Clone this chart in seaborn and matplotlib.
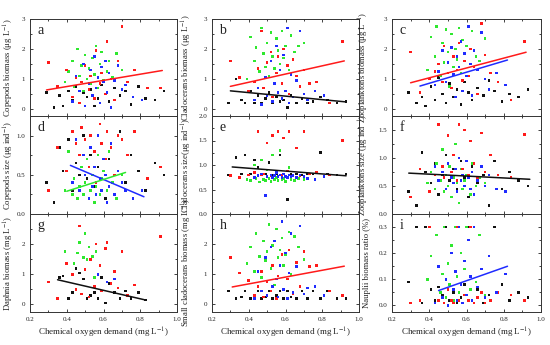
import numpy as np
import pandas as pd
import seaborn as sns
import matplotlib.pyplot as plt
from matplotlib.ticker import MultipleLocator

nan = np.nan

# COD (mg/L) of the samples in each colour group
x_black = [0.29, 0.33, 0.36, 0.38, 0.41, 0.43, 0.45, 0.47, 0.49, 0.51, 0.53, 0.55,
           0.57, 0.59, 0.61, 0.63, 0.66, 0.69, 0.72, 0.75, 0.79, 0.83, 0.88, 0.93]
x_red = [0.30, 0.35, 0.40, 0.43, 0.45, 0.47, 0.48, 0.50, 0.52, 0.53, 0.55, 0.56,
         0.58, 0.59, 0.61, 0.62, 0.64, 0.66, 0.68, 0.70, 0.73, 0.77, 0.84, 0.91]
x_green = [0.39, 0.41, 0.43, 0.44, 0.46, 0.47, 0.48, 0.49, 0.50, 0.51, 0.52, 0.53,
           0.54, 0.55, 0.56, 0.57, 0.58, 0.59, 0.60, 0.62, 0.63, 0.65, 0.67, 0.70]
x_blue = [0.43, 0.45, 0.47, 0.49, 0.50, 0.52, 0.53, 0.54, 0.55, 0.56, 0.57, 0.58,
          0.59, 0.60, 0.61, 0.62, 0.63, 0.64, 0.66, 0.68, 0.70, 0.72, 0.76, 0.81]

# a - copepods biomass
a_black = [0.55, 0.05, 0.45, 0.1, 0.6, 0.3, 0.75, 0.2, 0.55, 0.4, 0.65, 0.1, 0.35, 0.8, 0.5, 0.25, 0.7, 0.45, 0.6, 0.15, 0.75, 0.35, 0.3, 0.6]
a_red = [1.55, 0.75, 1.3, 0.4, 1.05, 0.2, 0.9, 1.45, 0.65, 1.1, 0.35, 1.95, 0.85, 1.2, 0.5, 2.25, 1.0, 0.3, 1.6, 2.75, 0.9, 1.3, 0.7, 0.7]
a_green = [0.9, 1.25, 1.6, 0.75, 2.0, 1.1, 1.45, 0.6, 1.8, 1.0, 1.35, 0.85, 1.7, 1.15, 2.1, 0.7, 1.5, 1.9, 0.95, 1.25, 1.6, 1.05, 1.85, 1.3]
a_blue = [0.25, 1.1, 0.6, 1.5, 0.1, 0.85, 1.3, 0.45, 1.75, 0.7, 1.05, 0.2, 1.4, 0.9, 1.6, 0.55, 1.2, 0.05, 0.95, 1.45, 0.65, 0.8, 0.4, 0.3]
# b - cladocerans biomass
b_black = [0.2, 1.0, 0.3, 0.2, 0.6, 0.2, 0.45, 0.2, 0.35, 0.55, 0.2, 0.4, 0.25, 0.3, 0.05, 0.45, 0.2, 0.35, 0.2, 0.25, 0.4, 0.3, 0.2, 0.25]
b_red = [1.6, 1.05, 0.6, 0.9, 1.35, 2.6, 0.7, 1.55, 1.9, 0.4, 1.2, 1.75, 0.85, 2.0, 1.45, 0.5, 1.65, 1.1, 0.75, 1.3, 0.85, 0.9, 0.2, 2.25]
b_green = [1.0, 2.4, 1.6, 2.05, 1.25, 2.7, 1.85, 1.4, 2.2, 1.1, 2.55, 1.75, 1.35, 2.35, 1.95, 1.5, 2.6, 1.7, 2.1, 1.3, 2.45, 1.9, 2.1, 2.2]
b_blue = [0.3, 0.7, 0.15, 1.05, 0.45, 1.6, 0.25, 0.85, 2.1, 0.55, 1.3, 0.35, 1.8, 0.6, 2.7, 0.2, 1.15, 0.4, 0.95, 2.6, 0.5, 0.3, 0.6, 0.45]
# c - zooplanktons biomass
c_black = [0.55, 0.2, 0.4, 0.1, 0.75, 0.3, 1.05, 0.5, 0.2, 0.85, 0.4, 0.65, 0.15, 0.9, 0.55, 0.3, 0.7, 0.45, 0.95, 0.6, 0.25, 0.5, 0.4, 0.65]
c_red = [1.9, 0.55, 1.0, 1.25, 1.5, 0.9, 2.1, 1.2, 0.7, 1.75, 1.3, 2.2, 0.95, 1.6, 1.1, 2.0, 1.4, 0.5, 2.85, 1.8, 1.2, 0.9, 0.3, 2.25]
c_green = [1.3, 2.4, 1.75, 2.75, 1.1, 2.2, 1.55, 2.65, 1.9, 0.75, 2.5, 1.4, 2.0, 1.65, 2.7, 1.2, 2.3, 1.85, 2.1, 1.5, 2.6, 1.75, 1.6, 2.35]
c_blue = [0.8, 1.25, 1.95, 0.9, 1.55, 2.05, 1.15, 0.4, 1.75, 1.4, 2.25, 0.6, 1.85, 1.1, 2.75, 1.5, 0.45, 1.95, 1.3, 2.55, 1.0, 0.65, 1.2, 0.8]
# d - copepods size
d_black = [0.4, 0.15, 0.85, 0.55, 0.95, 0.3, 0.65, 0.5, 1.0, 0.45, 0.75, 0.35, 0.6, 0.9, 0.2, 0.7, 0.5, 1.05, 0.4, 0.75, 0.55, 0.3, 0.65, 0.5]
d_red = [0.3, 0.85, 0.55, 1.05, 0.9, 0.75, 1.1, 0.95, 0.6, 1.0, 0.8, 0.4, 1.15, 0.9, 0.7, 1.05, 0.85, 0.5, 1.0, 0.95, 0.75, 1.05, 0.45, 0.6]
d_green = [0.3, 0.8, 0.25, 0.45, 0.2, 0.35, 0.6, 0.25, 0.4, 0.7, 0.2, 0.3, 0.5, 0.15, 0.35, 0.75, 0.25, 0.45, 0.55, 0.3, 0.8, 0.4, 0.2, 0.5]
d_blue = [0.4, 0.95, 0.3, 0.75, 0.5, 0.2, 0.85, 0.35, 0.6, 0.25, 1.0, 0.45, 0.3, 0.7, 0.5, 0.15, 0.35, 0.9, 0.25, 0.55, 0.4, 0.3, 0.2, 0.3]
# e - cladocerans size
e_black = [0.8, 1.15, 0.82, 1.2, 0.82, 1.1, 0.95, 0.82, 0.82, 1.05, 0.8, 0.82, 1.2, 0.82, 0.3, 0.82, 0.82, 0.8, 0.82, 0.82, 1.25, 0.82, 0.8, 0.82]
e_red = [0.78, 0.75, 0.8, 0.85, 1.68, 0.8, 0.82, 1.45, 0.78, 1.6, 0.84, 1.68, 0.8, 1.55, 0.88, 1.68, 0.8, 1.35, 0.78, 1.68, 0.82, 0.86, 0.8, 1.5]
e_green = [0.7, 0.68, 1.0, 0.72, 0.65, 1.1, 0.7, 0.68, 0.9, 0.72, 0.66, 1.2, 0.7, 0.75, 0.68, 1.3, 0.7, 0.72, 0.66, 0.95, 0.7, 0.68, 0.72, 0.7]
e_blue = [0.75, 0.78, 0.82, 0.38, 0.76, 0.8, 0.74, 0.78, 0.85, 0.76, 0.8, 0.75, 0.82, 0.77, 0.74, 0.8, 0.76, 0.78, 0.74, 0.8, 0.76, 0.72, 0.7, 0.76]
# f - zooplanktons size
f_black = [0.4, 0.15, 1.1, 0.75, 0.55, 0.9, 0.35, 0.7, 1.05, 0.6, 0.8, 0.45, 0.95, 0.65, 0.3, 0.85, 0.55, 0.7, 0.15, 0.95, 0.45, 0.75, 0.6, 0.5]
f_red = [0.3, 0.8, 0.4, 0.7, 1.6, 0.85, 0.65, 1.4, 0.75, 1.05, 0.6, 1.6, 0.8, 1.5, 0.7, 1.3, 0.9, 0.65, 1.45, 0.75, 1.05, 0.7, 0.65, 1.42]
f_green = [0.55, 0.75, 0.45, 0.9, 0.6, 1.15, 0.4, 0.7, 0.5, 0.85, 0.3, 0.65, 1.25, 0.55, 0.2, 0.8, 0.45, 0.6, 0.7, 0.35, 0.9, 0.5, 0.65, 0.55]
f_blue = [0.85, 0.6, 0.75, 0.45, 0.9, 0.65, 0.55, 0.8, 0.4, 1.0, 0.6, 0.7, 0.5, 0.95, 0.65, 0.45, 0.75, 0.35, 0.6, 0.85, 0.5, 0.7, 0.45, 0.4]
# g - daphnia biomass
g_black = [nan, nan, 0.9, 0.95, 0.2, 0.4, 1.2, 1.05, 0.85, 0.2, 0.3, 0.4, 0.2, 0.9, 0.05, 0.7, 0.4, 0.2, 0.45, 0.2, 0.4, 0.15, nan, nan]
g_red = [0.75, 0.2, 1.35, 1.0, 0.5, 2.6, 0.35, 1.15, 0.25, 1.5, 0.6, 2.0, 1.3, 0.45, 1.85, 2.05, 0.7, 1.1, 0.55, 1.75, 0.3, 0.65, nan, 2.25]
g_green = [1.75, nan, nan, 1.35, 1.7, 2.05, nan, 1.55, 2.35, 1.5, 1.9, nan, 1.6, 0.9, 1.75, nan, nan, nan, nan, nan, nan, nan, nan, nan]
g_blue = [nan, nan, nan, nan, nan, nan, nan, nan, nan, nan, 1.0, nan, nan, nan, nan, 0.75, nan, nan, 0.85, nan, nan, nan, nan, nan]
# h - small cladocerans biomass
h_black = [0.45, 0.2, 0.25, 0.45, 0.2, 0.3, 0.45, 0.2, 0.25, 0.45, 0.2, 0.3, 0.45, 0.2, 0.45, 0.25, 0.2, 0.45, 0.2, 0.45, 0.2, 0.45, 0.2, 0.2]
h_red = [1.55, 1.05, 0.8, 0.3, 0.6, 1.1, 0.25, 0.75, 0.45, 1.3, 0.2, 0.95, 1.65, 0.5, 0.85, 1.8, 0.35, 1.4, 0.6, 1.75, 1.25, 1.3, 0.45, 0.3]
h_green = [1.35, 1.9, 1.1, 2.35, 1.6, 0.9, 2.1, 1.45, 1.75, 2.65, 1.2, 1.95, 0.65, 2.5, 1.55, 1.8, 2.2, 1.3, 1.65, 2.4, 1.0, 2.25, 1.9, 1.5]
h_blue = [0.2, 1.1, 0.45, 1.55, 0.3, 1.9, 0.6, 2.1, 0.85, 0.25, 1.3, 2.75, 0.5, 1.7, 0.2, 1.05, 2.35, 0.4, 1.25, 2.6, 0.35, 0.55, 0.6, 0.3]
# i - nauplii biomass ratio
i_black = [0.09, 0.3, 0.01, 0.3, 0.06, 0.02, 0.07, 0.04, 0.3, 0.02, 0.05, 0.01, 0.03, 0.08, 0.3, 0.02, 0.06, 0.01, 0.04, 0.3, 0.08, 0.02, 0.05, 0.03]
i_red = [0.01, 0.02, 0.3, 0.01, 0.02, 0.03, 0.01, 0.06, 0.02, 0.01, 0.3, 0.02, 0.01, 0.04, 0.02, 0.3, 0.01, 0.03, 0.05, 0.01, 0.02, 0.05, 0.04, 0.02]
i_green = [0.1, 0.19, 0.01, 0.27, 0.05, 0.12, 0.3, 0.03, 0.16, 0.08, 0.23, 0.02, 0.3, 0.11, 0.05, 0.2, 0.01, 0.14, 0.3, 0.06, 0.02, 0.09, 0.27, 0.04]
i_blue = [0.01, 0.15, 0.03, 0.1, 0.0, 0.2, 0.06, 0.13, 0.02, 0.3, 0.08, 0.01, 0.17, 0.04, 0.25, 0.11, 0.02, 0.3, 0.07, 0.14, 0.03, 0.19, 0.05, 0.12]

# fitted lines: (group, [x0, x1], [y0, y1])
a_fits = [("red", [0.29, 0.92], [0.63, 1.28])]
b_fits = [("red", [0.30, 0.92], [0.75, 1.60]), ("black", [0.30, 0.93], [0.60, 0.23])]
c_fits = [("red", [0.30, 0.92], [0.87, 1.89]), ("blue", [0.35, 0.82], [0.76, 1.63])]
d_fits = [("blue", [0.42, 0.82], [0.62, 0.22]), ("green", [0.40, 0.72], [0.29, 0.53])]
e_fits = [("black", [0.31, 0.93], [0.96, 0.78])]
f_fits = [("black", [0.29, 0.94], [0.73, 0.62])]
g_fits = [("black", [0.35, 0.82], [0.82, 0.16])]
h_fits = [("red", [0.31, 0.92], [0.58, 1.27])]
i_fits = [("blue", [0.45, 0.82], [0.057, 0.15])]

ylabels = [
    "Copepods biomass (μg L$^{-1}$)", "Cladocerans biomass (μg L$^{-1}$)", "Zooplanktons biomass (μg L$^{-1}$)",
    "Copepods size (μg ind$^{-1}$)", "Cladocerans size(μg ind$^{-1}$)", "Zooplanktons size (μg ind$^{-1}$)",
    "Daphnia biomass (mg L$^{-1}$)", "Small cladocerans biomass (mg L$^{-1}$)", "Nauplii biomass ratio (%)",
]
ylims = [(-0.24, 3.0), (-0.24, 3.0), (-0.24, 3.0),
         (0.0, 1.25), (0.0, 2.0), (0.0, 1.75),
         (-0.25, 3.0), (-0.25, 3.0), (-0.025, 0.35)]
yticks = [[0, 1, 2, 3], [0, 1, 2, 3], [0, 1, 2, 3],
          [0.0, 0.5, 1.0], [0.0, 0.5, 1.0, 1.5, 2.0], [0.0, 0.5, 1.0, 1.5],
          [0, 1, 2], [0, 1, 2], [0.0, 0.1, 0.2, 0.3]]
letters = list("abcdefghi")

GROUPS = ["black", "green", "red", "blue"]
PALETTE = {"black": "#111111", "red": "#ff1a1a", "green": "#2ee82e", "blue": "#1f2bff"}
X = {"black": x_black, "red": x_red, "green": x_green, "blue": x_blue}

panels = [
    (a_black, a_red, a_green, a_blue, a_fits), (b_black, b_red, b_green, b_blue, b_fits),
    (c_black, c_red, c_green, c_blue, c_fits), (d_black, d_red, d_green, d_blue, d_fits),
    (e_black, e_red, e_green, e_blue, e_fits), (f_black, f_red, f_green, f_blue, f_fits),
    (g_black, g_red, g_green, g_blue, g_fits), (h_black, h_red, h_green, h_blue, h_fits),
    (i_black, i_red, i_green, i_blue, i_fits),
]

sns.set_style("ticks")
plt.rcParams["font.family"] = ["Liberation Serif", "DejaVu Serif"]
plt.rcParams["mathtext.fontset"] = "stix"
TXT = "#222222"

fig = plt.figure(figsize=(5.5, 3.45), dpi=100)
W, H = 550, 345
col_x = [(30, 147), (212, 147), (392, 149)]
row_y = [(19, 116), (116, 214), (214, 312)]
# distance (px) from the axis to the right edge of the y label
label_off = [-14, -18, -21]


def draw_panel(ax, idx, ys):
    yk, yr, yg, yb, fits = ys
    vals = {"black": yk, "red": yr, "green": yg, "blue": yb}
    df = pd.concat([pd.DataFrame({"cod": X[g], "value": vals[g], "group": g}) for g in GROUPS])
    df = df.dropna()
    sns.scatterplot(data=df, x="cod", y="value", hue="group", palette=PALETTE,
                    marker="s", s=3.5, linewidth=0, legend=False, ax=ax, zorder=2)
    for grp, fx, fy in fits:
        sns.lineplot(x=fx, y=fy, color=PALETTE[grp], lw=1.1, ax=ax, zorder=3)

    ax.set_xlim(0.2, 1.0)
    ax.set_ylim(*ylims[idx])
    ax.set_yticks(yticks[idx])
    ax.xaxis.set_major_locator(MultipleLocator(0.2))
    ax.xaxis.set_minor_locator(MultipleLocator(0.1))
    step = yticks[idx][1] - yticks[idx][0]
    ax.yaxis.set_minor_locator(MultipleLocator(step / 2))
    ax.tick_params(which="both", direction="in", top=True, right=True,
                   labelsize=5, colors=TXT, width=0.6)
    ax.tick_params(which="major", length=2.5)
    ax.tick_params(which="minor", length=1.5)
    if idx < 6:
        ax.set_xticklabels([])
        ax.set_xlabel("")
    else:
        ax.set_xticks([0.2, 0.4, 0.6, 0.8, 1.0])
        ax.set_xticklabels(["0.2", "0.4", "0.6", "0.8", "1.0"])
        ax.set_xlabel("Chemical oxygen demand (mg L$^{-1}$)", fontsize=6.5, color=TXT, labelpad=3)
    ax.set_ylabel(ylabels[idx], fontsize=6.2, color=TXT)
    ax.yaxis.set_label_coords(label_off[idx % 3] / col_x[idx % 3][1], 0.5)
    for sp in ax.spines.values():
        sp.set_linewidth(0.7)
        sp.set_color("#333333")
    ax.text(0.05, 0.88, letters[idx], transform=ax.transAxes, fontsize=10,
            color=TXT, va="center", ha="left")


for idx, ys in enumerate(panels):
    r, c = divmod(idx, 3)
    x0, w = col_x[c]
    top, bot = row_y[r]
    ax = fig.add_axes([x0 / W, 1 - bot / H, w / W, (bot - top) / H])
    draw_panel(ax, idx, ys)

fig.savefig("out.png", dpi=100)
